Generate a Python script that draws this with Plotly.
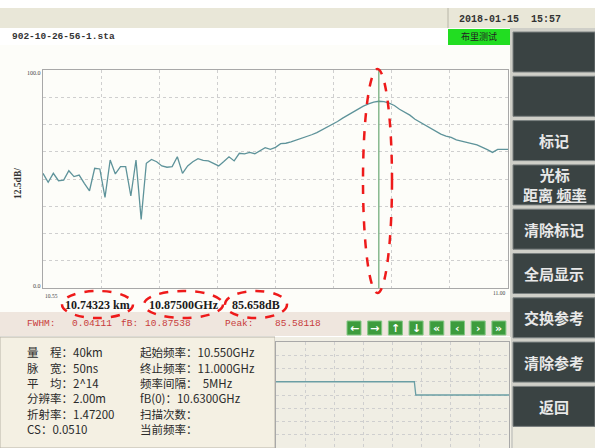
import plotly.graph_objects as go

W, H = 595, 448

# ---- data ----
freq_start = 10.550   # GHz
freq_step = 0.005     # 5 MHz
spectrum_db = [
    52.6, 48.5, 52.6, 49.2, 49.5, 53.8, 51.1, 51.8, 48.0, 44.6,
    54.9, 54.6, 41.6, 58.7, 52.3, 55.7, 55.7, 42.2, 58.7, 31.5,
    57.2, 59.0, 57.9, 56.0, 55.4, 55.7, 60.2, 52.6, 56.0, 57.9,
    59.3, 58.5, 58.3, 57.0, 56.0, 58.0, 60.2, 58.3, 61.8, 61.5,
    62.2, 61.6, 63.0, 64.4, 63.6, 64.5, 66.2, 66.4, 67.0, 67.8,
    68.5, 69.4, 70.3, 71.3, 72.5, 73.8, 75.1, 76.4, 77.9, 79.3,
    80.7, 82.2, 83.4, 84.5, 85.3, 85.658, 85.5, 84.8, 83.7, 82.0,
    80.6, 79.3, 77.4, 76.0, 74.5, 73.0, 71.8, 70.6, 69.7, 69.1,
    68.0, 67.5, 66.8, 66.2, 65.6, 64.6, 63.5, 62.2, 63.6, 63.6,
    63.6,
]
marker_freq = 10.875

# lower reference window, in grid divisions
ref_x = [0.0, 4.75, 4.8, 8.0]
ref_y = [5.0, 5.0, 4.0, 4.0]

file_name = "902-10-26-56-1.sta"
date_time = "2018-01-15  15:57"
mode_label = "布里测试"
y_label = "12.5dB/"
y_tick_labels = ["100.0", "0.0"]
x_tick_labels = ["10.55", "11.00"]
readouts = ["10.74323 km", "10.87500GHz", "85.658dB"]
status_texts = ["FWHM:", "0.04111", "fB:", "10.87538", "Peak:", "85.58118"]
info_left = ["量　程：40km", "脉　宽：50ns", "平　均：2^14",
             "分辨率：2.00m", "折射率：1.47200", "CS：0.0510"]
info_right = ["起始频率：10.550GHz", "终止频率：11.000GHz", "频率间隔：  5MHz",
              "fB(0)：10.6300GHz", "扫描次数：", "当前频率："]
button_labels = ["", "", "标记", "光标<br>距离 <u>频率</u>", "清除标记",
                 "全局显示", "交换参考", "清除参考", "返回"]
nav_symbols = ["←", "→", "↑", "↓", "«", "‹", "›", "»"]

CJK = "Noto Sans CJK SC"


def fx(x):
    return x / W


def fy(y):
    return 1 - y / H


shapes = []
annotations = []


def rect(x0, y0, x1, y1, fill, line=None, width=1, layer="below"):
    shapes.append(dict(
        type="rect", xref="paper", yref="paper",
        x0=fx(x0), x1=fx(x1), y0=fy(y1), y1=fy(y0),
        fillcolor=fill, layer=layer,
        line=dict(color=line or fill, width=width if line else 0),
    ))


def text(x, y, s, size=10, color="#222", family=CJK, xanchor="left", angle=0):
    annotations.append(dict(
        x=fx(x), y=fy(y), xref="paper", yref="paper", text=s,
        showarrow=False, xanchor=xanchor, yanchor="middle", textangle=angle,
        font=dict(size=size, color=color, family=family),
    ))


def ellipse(x0, y0, x1, y1):
    shapes.append(dict(
        type="circle", xref="paper", yref="paper",
        x0=fx(x0), x1=fx(x1), y0=fy(y1), y1=fy(y0), layer="above",
        line=dict(color="#ee1a1a", width=2.5, dash="dash"),
    ))


freqs = [round(freq_start + i * freq_step, 3) for i in range(len(spectrum_db))]

fig = go.Figure()

# spectrum trace
fig.add_trace(go.Scatter(
    x=freqs, y=spectrum_db, mode="lines",
    line=dict(color="#5e939a", width=1.3), showlegend=False,
    xaxis="x", yaxis="y",
))
# marker line
fig.add_trace(go.Scatter(
    x=[marker_freq, marker_freq], y=[0, 100], mode="lines",
    line=dict(color="#6aa872", width=1.2), showlegend=False,
    xaxis="x", yaxis="y",
))
# reference window trace
fig.add_trace(go.Scatter(
    x=ref_x, y=ref_y, mode="lines",
    line=dict(color="#6a9ea4", width=1.3), showlegend=False,
    xaxis="x2", yaxis="y2",
))

# --- panels ---
rect(0, 8, 595, 28, "#e9e7d8")                       # title bar
shapes.append(dict(type="line", xref="paper", yref="paper",
                   x0=fx(448), x1=fx(448), y0=fy(8), y1=fy(28),
                   line=dict(color="#b8b6a8", width=1)))
rect(0, 28, 510, 312, "#fdfdf9")                     # main area
rect(0, 28, 448, 45, "#ffffff")                      # file name row
rect(448, 29, 511, 45, "#22dd22")                    # mode box
rect(510, 28, 595, 448, "#cfcfc8")                   # right panel
rect(0, 312, 510, 336, "#efe6de")                    # status row
rect(0, 337, 275, 448, "#f4f0e3", line="#b8b4a8")    # info panel
rect(275, 337, 511, 448, "#f0eee4")

# right buttons
for i, lab in enumerate(button_labels):
    top = 32 + i * 44.3
    rect(513, top, 595, top + 40, "#3a4343", line="#7a8080", width=1)
    if lab:
        text(554, top + 20, "<b>" + lab + "</b>", size=15, color="#e8e8e8",
             xanchor="center")
rect(513, 427, 595, 448, "#eceadd")

# nav buttons
for i, sym in enumerate(nav_symbols):
    x0 = 347 + i * 20.7
    rect(x0, 321, x0 + 14, 335, "#3d9c3d", line="#86c886", layer="above")
    text(x0 + 7, 328, "<b>" + sym + "</b>", size=11, color="#ffffff",
         family="DejaVu Sans", xanchor="center")

# --- texts ---
text(457, 19, "<b>" + date_time + "</b>", size=10, color="#333",
     family="Liberation Mono")
text(10, 37, "<b>" + file_name + "</b>", size=9.5, color="#333",
     family="Liberation Mono")
text(479, 37, mode_label, size=9, color="#222", xanchor="center")
text(18, 184, "<b>" + y_label + "</b>", size=9.5, color="#333",
     family="Liberation Serif", xanchor="center", angle=-90)
text(43, 73, y_tick_labels[0], size=6, color="#444",
     family="Liberation Serif", xanchor="right")
text(43, 286, y_tick_labels[1], size=6, color="#444",
     family="Liberation Serif", xanchor="right")
text(43, 296, x_tick_labels[0], size=5.5, color="#444",
     family="Liberation Serif", xanchor="left")
text(507, 293, x_tick_labels[1], size=5.5, color="#444",
     family="Liberation Serif", xanchor="right")

for s, cx in zip(readouts, [97, 184, 256]):
    text(cx, 305, "<b>" + s + "</b>", size=12, color="#1a1a1a",
         family="Liberation Serif", xanchor="center")

for s, x in zip(status_texts, [25, 70, 119, 143, 223, 273]):
    text(x, 323, s, size=9.5, color="#c83c3c", family="Liberation Mono")

rows_y = [352, 368, 383, 398, 414, 429]
for ly, l, r in zip(rows_y, info_left, info_right):
    text(25, ly, l, size=11.5, color="#2a2a2a")
    text(138, ly, r, size=11.5, color="#2a2a2a")

# red hand-drawn marks
ellipse(62, 291, 133, 318)
ellipse(144, 291, 223, 318)
ellipse(225, 291, 287, 318)
ellipse(363, 69, 392, 293)

grid = dict(showgrid=True, gridcolor="#cfcfcf", griddash="dot", gridwidth=1,
            showline=True, mirror=True, linecolor="#a8a8a8", linewidth=1,
            zeroline=False, showticklabels=False, ticks="", fixedrange=True)

fig.update_layout(
    width=W, height=H,
    margin=dict(l=0, r=0, t=0, b=0, pad=0),
    paper_bgcolor="#ffffff",
    plot_bgcolor="#ffffff",
    showlegend=False,
    xaxis=dict(domain=[fx(43), fx(508)], range=[10.55, 11.0],
               tick0=10.55, dtick=0.05625, **grid),
    yaxis=dict(domain=[fy(288), fy(70)], range=[0, 100],
               tick0=0, dtick=12.5, **grid),
    xaxis2=dict(domain=[fx(276), fx(509)], range=[0, 8], dtick=1,
                anchor="y2", **grid),
    yaxis2=dict(domain=[0, fy(342)], range=[0, 8], dtick=1,
                anchor="x2", **grid),
    shapes=shapes,
    annotations=annotations,
)

# the page body has a default 8px margin; drop it so the figure fills the window
fig.write_html("out.html", config={"displayModeBar": False},
               post_script="document.body.style.margin='0';")
